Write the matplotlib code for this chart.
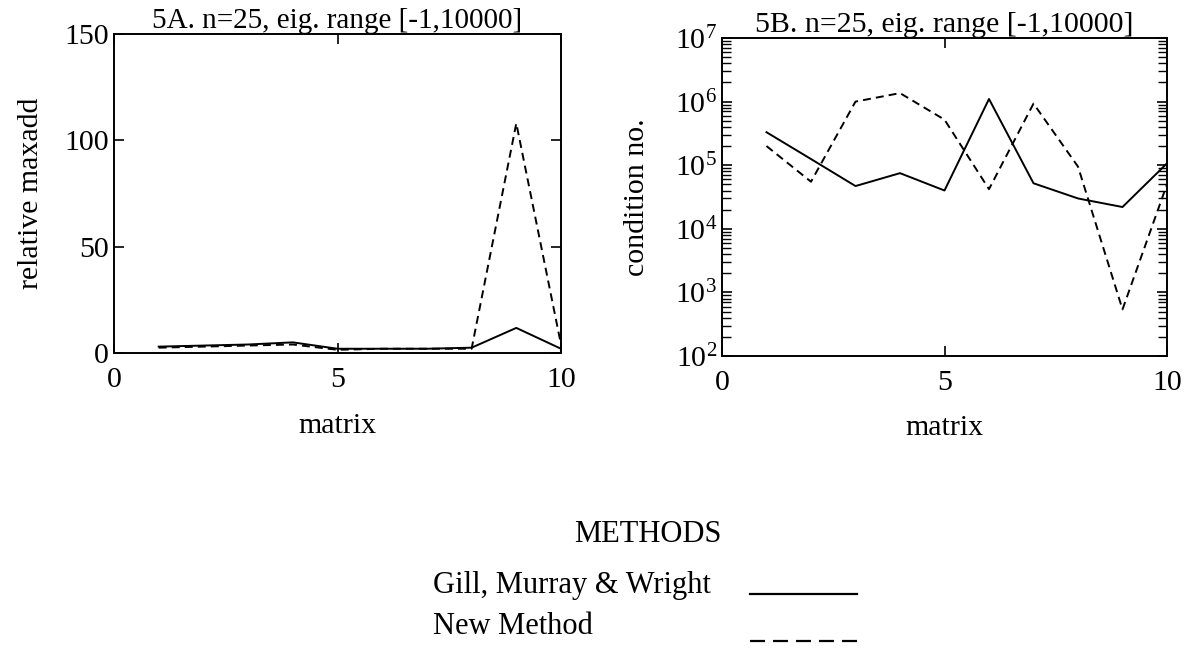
import numpy as np
import matplotlib
matplotlib.use('Agg')
import matplotlib.pyplot as plt

plt.rcParams['font.family'] = ['Liberation Serif', 'DejaVu Serif']
plt.rcParams['mathtext.fontset'] = 'custom'
plt.rcParams['mathtext.rm'] = 'Liberation Serif'
plt.rcParams['mathtext.it'] = 'Liberation Serif:italic'

matrix = [1, 2, 3, 4, 5, 6, 7, 8, 9, 10]
# 5A relative maxadd
gmw_maxadd = [3, 3.5, 4, 5, 2, 2, 2, 2.5, 11.8, 2]
new_maxadd = [2.5, 3, 3.5, 4, 1.5, 2, 2, 2, 108, 4]
# 5B condition number
gmw_cond = [3.3e5, 1.25e5, 4.7e4, 7.5e4, 4.0e4, 1.1e6, 5.2e4, 3.0e4, 2.2e4, 1.07e5]
new_cond = [2.0e5, 5.5e4, 1.0e6, 1.36e6, 5.2e5, 4.2e4, 9.3e5, 9.5e4, 5.4e2, 5.0e4]

methods = ['Gill, Murray & Wright', 'New Method']

W, H = 1188, 659
fig = plt.figure(figsize=(W / 100, H / 100), dpi=100)
ax1 = fig.add_axes([114 / W, 1 - 353 / H, 447 / W, 319 / H])
ax2 = fig.add_axes([722 / W, 1 - 356 / H, 445 / W, 318 / H])

lw = 1.4
dash = (0, (4.1, 2.6))
fs = 21.5

ax1.plot(matrix, gmw_maxadd, 'k-', lw=lw)
ax1.plot(matrix, new_maxadd, 'k', ls=dash, lw=lw)
ax1.set_xlim(0, 10)
ax1.set_ylim(0, 150)
ax1.set_xticks([0, 5, 10])
ax1.set_yticks([0, 50, 100, 150])
ax1.set_title('5A. n=25, eig. range [-1,10000]', fontsize=21, pad=1)
ax1.set_ylabel('relative maxadd', fontsize=fs)
ax1.set_xlabel('matrix', fontsize=fs)

ax2.semilogy(matrix, gmw_cond, 'k-', lw=lw)
ax2.semilogy(matrix, new_cond, 'k', ls=dash, lw=lw)
ax2.set_xlim(0, 10)
ax2.set_ylim(1e2, 1e7)
ax2.set_xticks([0, 5, 10])
ax2.set_yticks([1e2, 1e3, 1e4, 1e5, 1e6, 1e7])
ax2.set_yticklabels(['$10^{%d}$' % k for k in range(2, 8)])
ax2.yaxis.set_minor_locator(matplotlib.ticker.LogLocator(base=10, subs=np.arange(2, 10), numticks=100))
ax2.yaxis.set_minor_formatter(matplotlib.ticker.NullFormatter())
ax2.set_title('5B. n=25, eig. range [-1,10000]', fontsize=21.5, pad=1)
ax2.set_ylabel('condition no.', fontsize=fs)
ax2.set_xlabel('matrix', fontsize=fs)

ax1.yaxis.set_label_coords(-0.157, 0.5)
ax2.yaxis.set_label_coords(-0.162, 0.5)
ax1.xaxis.set_label_coords(0.5, -0.188)
ax2.xaxis.set_label_coords(0.5, -0.186)

for ax in (ax1, ax2):
    ax.tick_params(which='both', direction='in', top=True, right=True, labelsize=fs)
    ax.tick_params(which='major', length=7, width=1.2)
    ax.tick_params(which='minor', length=6.5, width=1)
    ax.tick_params(axis='x', which='major', pad=10)
    ax.tick_params(axis='y', which='major', pad=3.5)
    for s in ax.spines.values():
        s.set_linewidth(1.4)

# legend block
fig.text(0.545, 1 - 535 / H, 'METHODS', fontsize=22, ha='center', va='center')
fig.text(433 / W, 1 - 585 / H, methods[0], fontsize=22, ha='left', va='center')
fig.text(433 / W, 1 - 627 / H, methods[1], fontsize=22, ha='left', va='center')
fig.add_artist(plt.Line2D([750 / W, 857 / W], [1 - 594 / H, 1 - 594 / H], color='k', lw=1.6))
fig.add_artist(plt.Line2D([750 / W, 857 / W], [1 - 641 / H, 1 - 641 / H], color='k', lw=1.6,
                          ls=(0, (6.75, 3.6))))

fig.savefig('out.png', dpi=100)
